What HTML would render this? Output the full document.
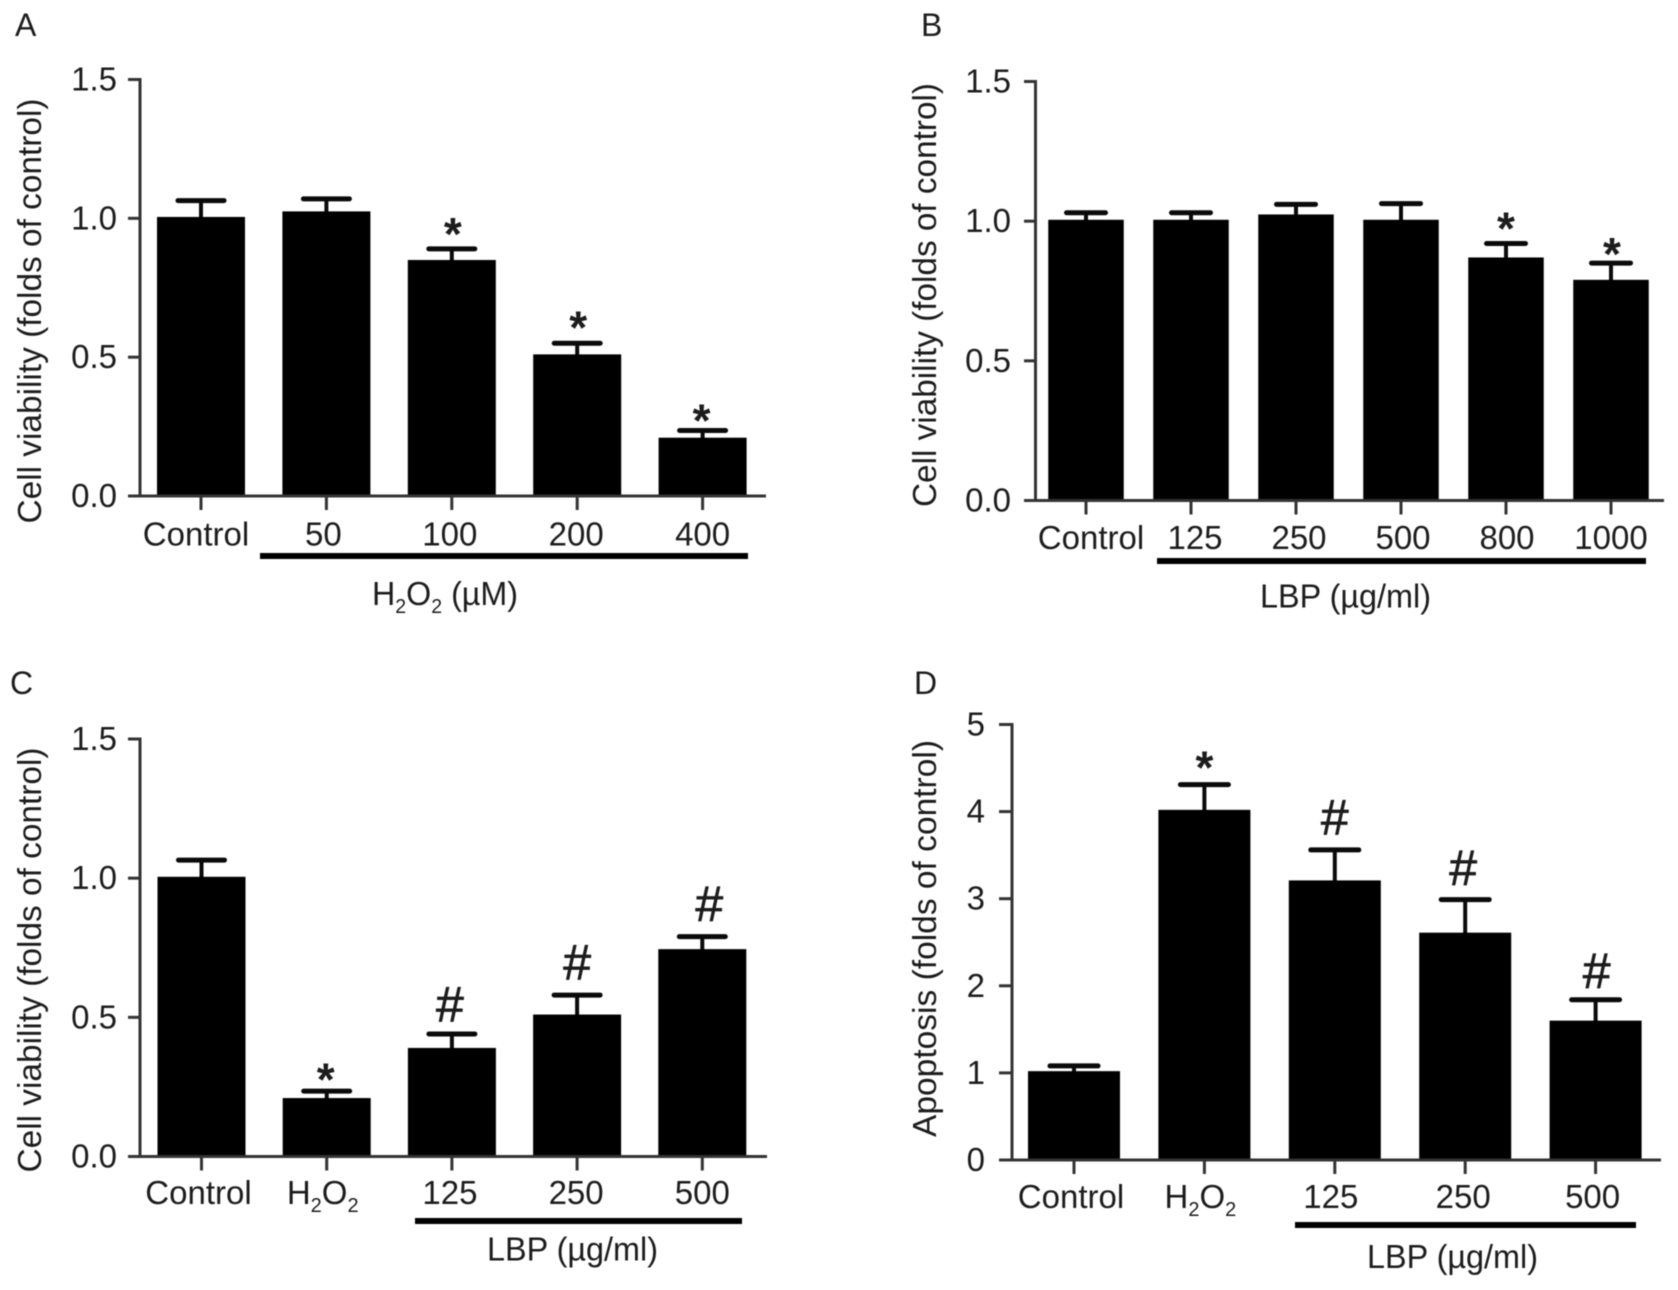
<!DOCTYPE html>
<html lang="en">
<head>
<meta charset="utf-8">
<title>Cell viability and apoptosis bar charts</title>
<style>
html,body{margin:0;padding:0;background:#fff;}
body{width:1678px;height:1290px;overflow:hidden;}
svg{display:block;filter:blur(0.6px);}
text{font-family:"Liberation Sans",sans-serif;fill:#1c1c1c;}
.yt{font-size:33px;}
.lt{font-size:32px;}
</style>
</head>
<body>
<svg id="figure" xmlns="http://www.w3.org/2000/svg" width="1678" height="1290" viewBox="0 0 1678 1290">
  <rect x="0" y="0" width="1678" height="1290" fill="#fff"/>

  <text class="lt" x="15" y="36">A</text>
  <text class="lt" x="921" y="36">B</text>
  <text class="lt" x="10" y="694">C</text>
  <text class="lt" x="914" y="694">D</text>

  <text class="yt" text-anchor="middle" textLength="425" lengthAdjust="spacingAndGlyphs" transform="translate(41,311) rotate(-90)">Cell viability (folds of control)</text>
  <text class="yt" text-anchor="middle" textLength="424" lengthAdjust="spacingAndGlyphs" transform="translate(936,295) rotate(-90)">Cell viability (folds of control)</text>
  <text class="yt" text-anchor="middle" textLength="425" lengthAdjust="spacingAndGlyphs" transform="translate(41,960) rotate(-90)">Cell viability (folds of control)</text>
  <text class="yt" text-anchor="middle" textLength="397" lengthAdjust="spacingAndGlyphs" transform="translate(936,938.5) rotate(-90)">Apoptosis (folds of control)</text>

  <line x1="260" x2="748" y1="556" y2="556" stroke="#000" stroke-width="6"/>
  <line x1="1157" x2="1646" y1="561" y2="561" stroke="#000" stroke-width="6"/>
  <line x1="415" x2="742" y1="1221" y2="1221" stroke="#000" stroke-width="6"/>
  <line x1="1295" x2="1636" y1="1225" y2="1225" stroke="#000" stroke-width="6"/>

  <text class="yt" x="372" y="605" textLength="146" lengthAdjust="spacingAndGlyphs">H<tspan font-size="20" dy="8">2</tspan><tspan dy="-8">O</tspan><tspan font-size="20" dy="8">2</tspan><tspan dy="-8"> (µM)</tspan></text>
  <text class="yt" x="1260" y="607.5" textLength="171" lengthAdjust="spacingAndGlyphs">LBP (µg/ml)</text>
  <text class="yt" x="487" y="1260.5" textLength="171" lengthAdjust="spacingAndGlyphs">LBP (µg/ml)</text>
  <text class="yt" x="1367" y="1268" textLength="171" lengthAdjust="spacingAndGlyphs">LBP (µg/ml)</text>

  <g id="charts"></g>
</svg>
<script>
// Data
const viabilityTicks = [0, 0.5, 1.0, 1.5];
const viabilityTickLabels = ['0.0', '0.5', '1.0', '1.5'];
const apoptosisTicks = [0, 1, 2, 3, 4, 5];
const apoptosisTickLabels = ['0', '1', '2', '3', '4', '5'];

const categoriesA = ['Control', '50', '100', '200', '400'];
const valuesA = [1.005, 1.025, 0.85, 0.51, 0.21];
const upperA = [1.064, 1.07, 0.89, 0.55, 0.236];
const marksA = ['', '', '*', '*', '*'];

const categoriesB = ['Control', '125', '250', '500', '800', '1000'];
const valuesB = [1.005, 1.005, 1.024, 1.005, 0.87, 0.79];
const upperB = [1.03, 1.03, 1.06, 1.063, 0.92, 0.85];
const marksB = ['', '', '', '', '*', '*'];

const categoriesC = ['Control', 'H2O2', '125', '250', '500'];
const valuesC = [1.005, 0.21, 0.39, 0.51, 0.745];
const upperC = [1.065, 0.235, 0.44, 0.58, 0.79];
const marksC = ['', '*', '#', '#', '#'];

const categoriesD = ['Control', 'H2O2', '125', '250', '500'];
const valuesD = [1.02, 4.02, 3.21, 2.61, 1.6];
const upperD = [1.08, 4.31, 3.56, 2.99, 1.84];
const marksD = ['', '*', '#', '#', '#'];

const SVG_NS = 'http://www.w3.org/2000/svg';
const chartsRoot = document.getElementById('charts');

function make(tag, attrs, parent) {
  const node = document.createElementNS(SVG_NS, tag);
  for (const k in attrs) node.setAttribute(k, attrs[k]);
  parent.appendChild(node);
  return node;
}

function writeLabel(node, label) {
  const m = label === 'H2O2';
  if (!m) { node.textContent = label; return; }
  const parts = [['H', 0, null], ['2', 8, 20], ['O', -8, null], ['2', 8, 20]];
  parts.forEach(function (p) {
    const span = make('tspan', { dy: p[1] }, node);
    if (p[2]) span.setAttribute('font-size', p[2]);
    span.textContent = p[0];
  });
}

function drawPanel(id, layout, ticks, tickLabels, categories, values, upper, marks) {
  const g = make('g', {}, chartsRoot);
  
  

  const yScale = function (v) {
    return layout.yZero - (v / layout.yMax) * (layout.yZero - layout.yTop);
  };
  const xScale = function (i) {
    return layout.firstCenter + i * layout.step;
  };

  // bars and error bars
  categories.forEach(function (cat, i) {
    const cx = xScale(i);
    const top = yScale(values[i]);
    const capY = yScale(upper[i]);

    const stem = make('line', { x1: cx, x2: cx, y1: capY, y2: top + 1, stroke: '#0a0a0a', 'stroke-width': layout.stem }, g);
    
    

    const cap = make('line', { x1: cx - layout.capWidth / 2, x2: cx + layout.capWidth / 2, y1: capY, y2: capY, stroke: '#0a0a0a', 'stroke-width': 5, 'stroke-linecap': 'round' }, g);
    
    

    const bar = make('rect', { x: cx - layout.barWidth / 2, y: top, width: layout.barWidth, height: layout.yZero - top, fill: '#000' }, g);
    
    

    if (marks[i] === '*') {
      const star = make('text', { x: cx + layout.markDx[i], y: capY + 3 + layout.markDy[i], 'text-anchor': 'middle', 'font-size': 46, 'font-weight': 'bold' }, g);
      
      
      star.textContent = marks[i];
    } else if (marks[i] === '#') {
      const hash = make('text', { x: cx + layout.markDx[i], y: capY - 12.5 + layout.markDy[i], 'text-anchor': 'middle', 'font-size': 50, stroke: '#1c1c1c', 'stroke-width': 0.7 }, g);
      
      
      hash.textContent = marks[i];
    }

    const tick = make('line', { x1: cx, x2: cx, y1: layout.yZero, y2: layout.yZero + 14, stroke: '#333', 'stroke-width': 3 }, g);
    
    

    const label = make('text', { x: cx + layout.labelDx[i], y: layout.labelBaseline, 'text-anchor': 'middle', 'font-size': 33 }, g);
    
    
    writeLabel(label, cat);
  });

  // axes
  const yAxis = make('line', { x1: layout.axisX, x2: layout.axisX, y1: yScale(layout.yMax) - 1.5, y2: layout.yZero + 1.5, stroke: '#333', 'stroke-width': 3 }, g);
  
  

  const xAxis = make('line', { x1: layout.xAxisStart, x2: layout.xAxisEnd, y1: layout.yZero, y2: layout.yZero, stroke: '#333', 'stroke-width': 3 }, g);
  
  

  ticks.forEach(function (t, i) {
    const y = yScale(t);
    const tk = make('line', { x1: layout.xAxisStart, x2: layout.axisX, y1: y, y2: y, stroke: '#333', 'stroke-width': 3 }, g);
    
    

    const tl = make('text', { x: layout.tickLabelRight, y: y + 11, 'text-anchor': 'end', 'font-size': 33 }, g);
    
    
    tl.textContent = tickLabels[i];
  });
}

drawPanel('a', {
  axisX: 140, yZero: 496, yTop: 79.5, yMax: 1.5, firstCenter: 201, step: 125.4,
  barWidth: 88, capWidth: 46, stem: 4, xAxisStart: 128, xAxisEnd: 766,
  tickLabelRight: 117, labelBaseline: 545.5,
  labelDx: [-5, -3, -2, -1, 0], markDx: [0, 0, 1, 1, -1], markDy: [0, 0, -2, -3, 3]
}, viabilityTicks, viabilityTickLabels, categoriesA, valuesA, upperA, marksA);

drawPanel('b', {
  axisX: 1035.5, yZero: 500.5, yTop: 81.5, yMax: 1.5, firstCenter: 1086, step: 105,
  barWidth: 75.5, capWidth: 39, stem: 4, xAxisStart: 1024, xAxisEnd: 1664,
  tickLabelRight: 1011, labelBaseline: 549,
  labelDx: [5, 4, 3, 2, 1, 0], markDx: [0, 0, 0, 0, 0, 1], markDy: [0, 0, 0, 0, -2, 4]
}, viabilityTicks, viabilityTickLabels, categoriesB, valuesB, upperB, marksB);

drawPanel('c', {
  axisX: 140, yZero: 1156.5, yTop: 739, yMax: 1.5, firstCenter: 201.5, step: 125.2,
  barWidth: 88, capWidth: 46, stem: 4, xAxisStart: 128, xAxisEnd: 767,
  tickLabelRight: 117, labelBaseline: 1204,
  labelDx: [-3, -4, -2, -1, 0], markDx: [0, -1, -2, 0, 7], markDy: [0, 1.5, 0, -3, -3]
}, viabilityTicks, viabilityTickLabels, categoriesC, valuesC, upperC, marksC);

drawPanel('d', {
  axisX: 1012, yZero: 1160, yTop: 724.5, yMax: 5, firstCenter: 1074, step: 130.4,
  barWidth: 92, capWidth: 48, stem: 4, xAxisStart: 999, xAxisEnd: 1661,
  tickLabelRight: 985, labelBaseline: 1208,
  labelDx: [-3, -4, -4, -2, -3], markDx: [0, 0, 0, -2, 1], markDy: [0, -4, -3, -2, 1]
}, apoptosisTicks, apoptosisTickLabels, categoriesD, valuesD, upperD, marksD);
</script>
</body>
</html>
